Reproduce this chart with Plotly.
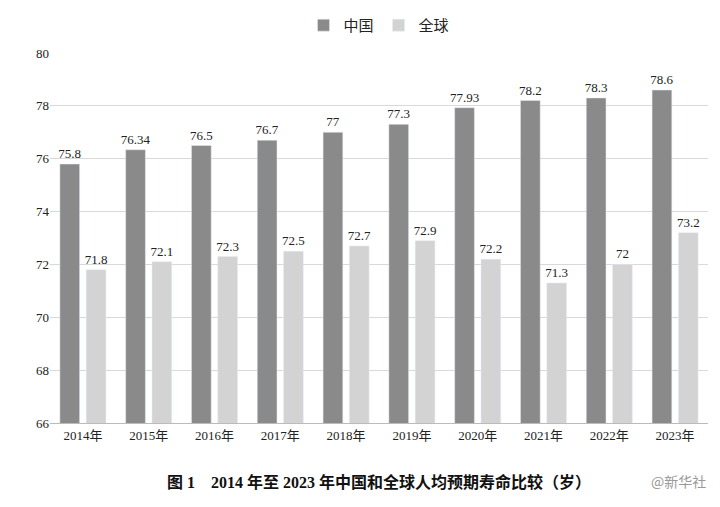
import plotly.graph_objects as go

years = ["2014年","2015年","2016年","2017年","2018年","2019年","2020年","2021年","2022年","2023年"]
china = [75.8, 76.34, 76.5, 76.7, 77, 77.3, 77.93, 78.2, 78.3, 78.6]
world = [71.8, 72.1, 72.3, 72.5, 72.7, 72.9, 72.2, 71.3, 72, 73.2]
china_lbl = ["75.8","76.34","76.5","76.7","77","77.3","77.93","78.2","78.3","78.6"]
world_lbl = ["71.8","72.1","72.3","72.5","72.7","72.9","72.2","71.3","72","73.2"]

font = "Liberation Serif, Noto Sans CJK SC"
fig = go.Figure()
fig.add_bar(x=years, y=china, name="中国", marker_color="#8a8a8a",
            text=china_lbl, textposition="outside", cliponaxis=False, constraintext="none",
            textfont=dict(size=13, color="#222"))
fig.add_bar(x=years, y=world, name="全球", marker_color="#d3d3d3",
            text=world_lbl, textposition="outside", cliponaxis=False, constraintext="none",
            textfont=dict(size=13, color="#222"))
fig.update_layout(
    width=720, height=507, plot_bgcolor="white", paper_bgcolor="white",
    margin=dict(l=42, r=20, t=45, b=92, autoexpand=False),
    barmode="group", bargap=0.2, bargroupgap=0.25,
    uniformtext=dict(mode=False),
    font=dict(family=font, size=13, color="#222"),
    legend=dict(orientation="h", x=0.5, xanchor="center", y=1.03, yanchor="bottom",
                font=dict(size=15, family="Noto Sans CJK SC")),
    yaxis=dict(range=[66, 80], dtick=2, showgrid=True, gridcolor="#d9d9d9",
               zeroline=False, showline=False, ticks=""),
    xaxis=dict(showline=True, linecolor="#bbbbbb", ticks=""),
    annotations=[
        dict(text="<b>图 1    2014 年至 2023 年中国和全球人均预期寿命比较（岁）</b>",
             x=0.5, y=-0.19, xref="paper", yref="paper", showarrow=False,
             font=dict(size=16, family=font, color="#111")),
        dict(text="@新华社", x=1.0, y=-0.19, xref="paper", yref="paper",
             xanchor="right", showarrow=False,
             font=dict(size=14, family="Noto Sans CJK SC", color="#999")),
    ],
)
fig.write_html("out.html")
